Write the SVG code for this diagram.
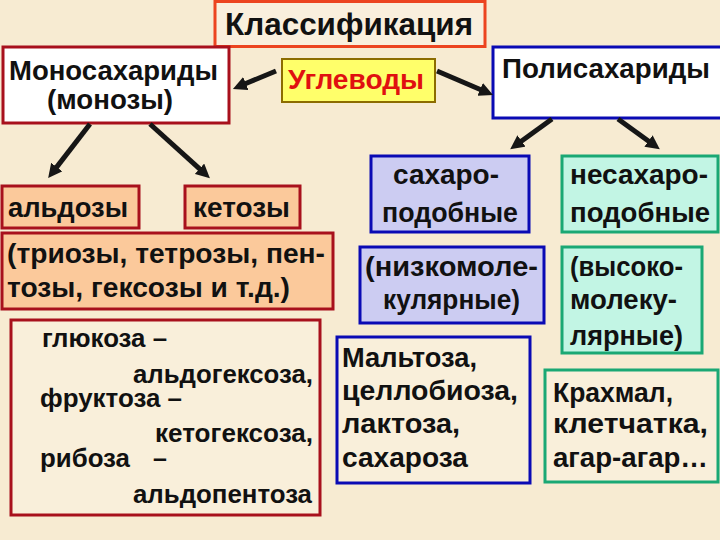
<svg xmlns="http://www.w3.org/2000/svg" width="720" height="540" viewBox="0 0 720 540">
<style>
text{font-family:"Liberation Sans",Arial,sans-serif;font-weight:bold;fill:#111;}
.t28{font-size:28px;}
.t25{font-size:25px;}
.red{stroke:#a8101c;stroke-width:3;}
.blue{stroke:#0a0ab4;stroke-width:3;}
.teal{stroke:#1aa874;stroke-width:3;}
.peach{fill:#fbc99b;}
.lav{fill:#ccccf2;}
.mint{fill:#c2f5e4;}
.pale{fill:#f9efda;}
.arrow{stroke:#161616;stroke-width:5;fill:none;marker-end:url(#ah);}
</style>
<defs>
<marker id="ah" viewBox="0 0 14 14" markerWidth="14" markerHeight="14" markerUnits="userSpaceOnUse" refX="2" refY="7" orient="auto">
<path d="M0,0 L14,7 L0,14 z" fill="#161616"/>
</marker>
</defs>
<rect x="0" y="0" width="720" height="540" fill="#f7ebd2"/>

<g id="classification">
<rect x="215" y="1.5" width="270" height="45" fill="#f9efdd" stroke="#ec4420" stroke-width="3"/>
<text x="225" y="35" font-size="31" textLength="248" lengthAdjust="spacingAndGlyphs">Классификация</text>
</g>

<g id="mono">
<rect x="3" y="47" width="226" height="76" fill="#ffffff" class="red"/>
<text class="t28" x="9" y="80" textLength="209" lengthAdjust="spacingAndGlyphs">Моносахариды</text>
<text class="t28" x="47" y="109" textLength="126" lengthAdjust="spacingAndGlyphs">(монозы)</text>
</g>

<g id="carbs">
<rect x="282" y="59" width="153" height="43" fill="#ffff6a" stroke="#8c6c00" stroke-width="2"/>
<text x="288" y="89" font-size="27" style="fill:#e01010" textLength="136" lengthAdjust="spacingAndGlyphs">Углеводы</text>
</g>

<g id="poly">
<rect x="493" y="47" width="232" height="71" fill="#ffffff" class="blue"/>
<text class="t28" x="502" y="78" textLength="208" lengthAdjust="spacingAndGlyphs">Полисахариды</text>
</g>

<g id="aldoses">
<rect x="2" y="186" width="137" height="42" class="peach red"/>
<text class="t28" x="8" y="217" textLength="120" lengthAdjust="spacingAndGlyphs">альдозы</text>
</g>

<g id="ketoses">
<rect x="185" y="186" width="115" height="42" class="peach red"/>
<text class="t28" x="193" y="217" textLength="97" lengthAdjust="spacingAndGlyphs">кетозы</text>
</g>

<g id="trioses">
<rect x="2" y="233" width="331" height="76" class="peach red"/>
<text class="t28" x="7" y="263" textLength="318" lengthAdjust="spacingAndGlyphs">(триозы, тетрозы, пен-</text>
<text class="t28" x="7" y="297" textLength="283" lengthAdjust="spacingAndGlyphs">тозы, гексозы и т.д.)</text>
</g>

<g id="examples-mono">
<rect x="11" y="320" width="309" height="195" class="pale red"/>
<text class="t25" x="42" y="347" textLength="125" lengthAdjust="spacingAndGlyphs">глюкоза –</text>
<text class="t25" x="133" y="383" textLength="180" lengthAdjust="spacingAndGlyphs">альдогексоза,</text>
<text class="t25" x="40" y="407" textLength="142" lengthAdjust="spacingAndGlyphs">фруктоза –</text>
<text class="t25" x="155" y="442" textLength="158" lengthAdjust="spacingAndGlyphs">кетогексоза,</text>
<text class="t25" x="40" y="467" textLength="90" lengthAdjust="spacingAndGlyphs">рибоза</text>
<text class="t25" x="153" y="467">–</text>
<text class="t25" x="133" y="503" textLength="179" lengthAdjust="spacingAndGlyphs">альдопентоза</text>
</g>

<g id="sugar-like">
<rect x="371" y="156" width="158" height="76" class="lav blue"/>
<text class="t28" x="393" y="184" textLength="106" lengthAdjust="spacingAndGlyphs">сахаро-</text>
<text class="t28" x="382" y="222" textLength="136" lengthAdjust="spacingAndGlyphs">подобные</text>
</g>

<g id="non-sugar-like">
<rect x="562" y="156" width="156" height="76" class="mint teal"/>
<text class="t28" x="570" y="184" textLength="138" lengthAdjust="spacingAndGlyphs">несахаро-</text>
<text class="t28" x="570" y="222" textLength="140" lengthAdjust="spacingAndGlyphs">подобные</text>
</g>

<g id="low-molecular">
<rect x="360" y="247" width="184" height="76" class="lav blue"/>
<text class="t28" x="365" y="276" textLength="173" lengthAdjust="spacingAndGlyphs">(низкомоле-</text>
<text class="t28" x="383" y="309" textLength="137" lengthAdjust="spacingAndGlyphs">кулярные)</text>
</g>

<g id="high-molecular">
<rect x="562" y="247" width="140" height="106" class="mint teal"/>
<text class="t28" x="570" y="276" textLength="113" lengthAdjust="spacingAndGlyphs">(высоко-</text>
<text class="t28" x="570" y="309" textLength="107" lengthAdjust="spacingAndGlyphs">молеку-</text>
<text class="t28" x="570" y="345" textLength="113" lengthAdjust="spacingAndGlyphs">лярные)</text>
</g>

<g id="examples-di">
<rect x="337" y="337" width="193" height="146" class="pale blue"/>
<text class="t28" x="342" y="367" textLength="135" lengthAdjust="spacingAndGlyphs">Мальтоза,</text>
<text class="t28" x="342" y="400" textLength="176" lengthAdjust="spacingAndGlyphs">целлобиоза,</text>
<text class="t28" x="342" y="433" textLength="118" lengthAdjust="spacingAndGlyphs">лактоза,</text>
<text class="t28" x="342" y="467" textLength="126" lengthAdjust="spacingAndGlyphs">сахароза</text>
</g>

<g id="examples-poly">
<rect x="545" y="370" width="173" height="112" class="pale teal"/>
<text class="t28" x="553" y="402" textLength="120" lengthAdjust="spacingAndGlyphs">Крахмал,</text>
<text class="t28" x="553" y="433" textLength="155" lengthAdjust="spacingAndGlyphs">клетчатка,</text>
<text class="t28" x="553" y="467" textLength="155" lengthAdjust="spacingAndGlyphs">агар-агар…</text>
</g>

<g id="connectors">
<line class="arrow" x1="276" y1="71" x2="244" y2="84.3"/>
<line class="arrow" x1="437" y1="71" x2="482" y2="90.2"/>
<line class="arrow" x1="90" y1="124" x2="55.5" y2="168.6"/>
<line class="arrow" x1="150" y1="124" x2="201" y2="170.1"/>
<line class="arrow" x1="552" y1="119" x2="519.9" y2="142.2"/>
<line class="arrow" x1="618" y1="119" x2="650.1" y2="142.2"/>
</g>
</svg>
